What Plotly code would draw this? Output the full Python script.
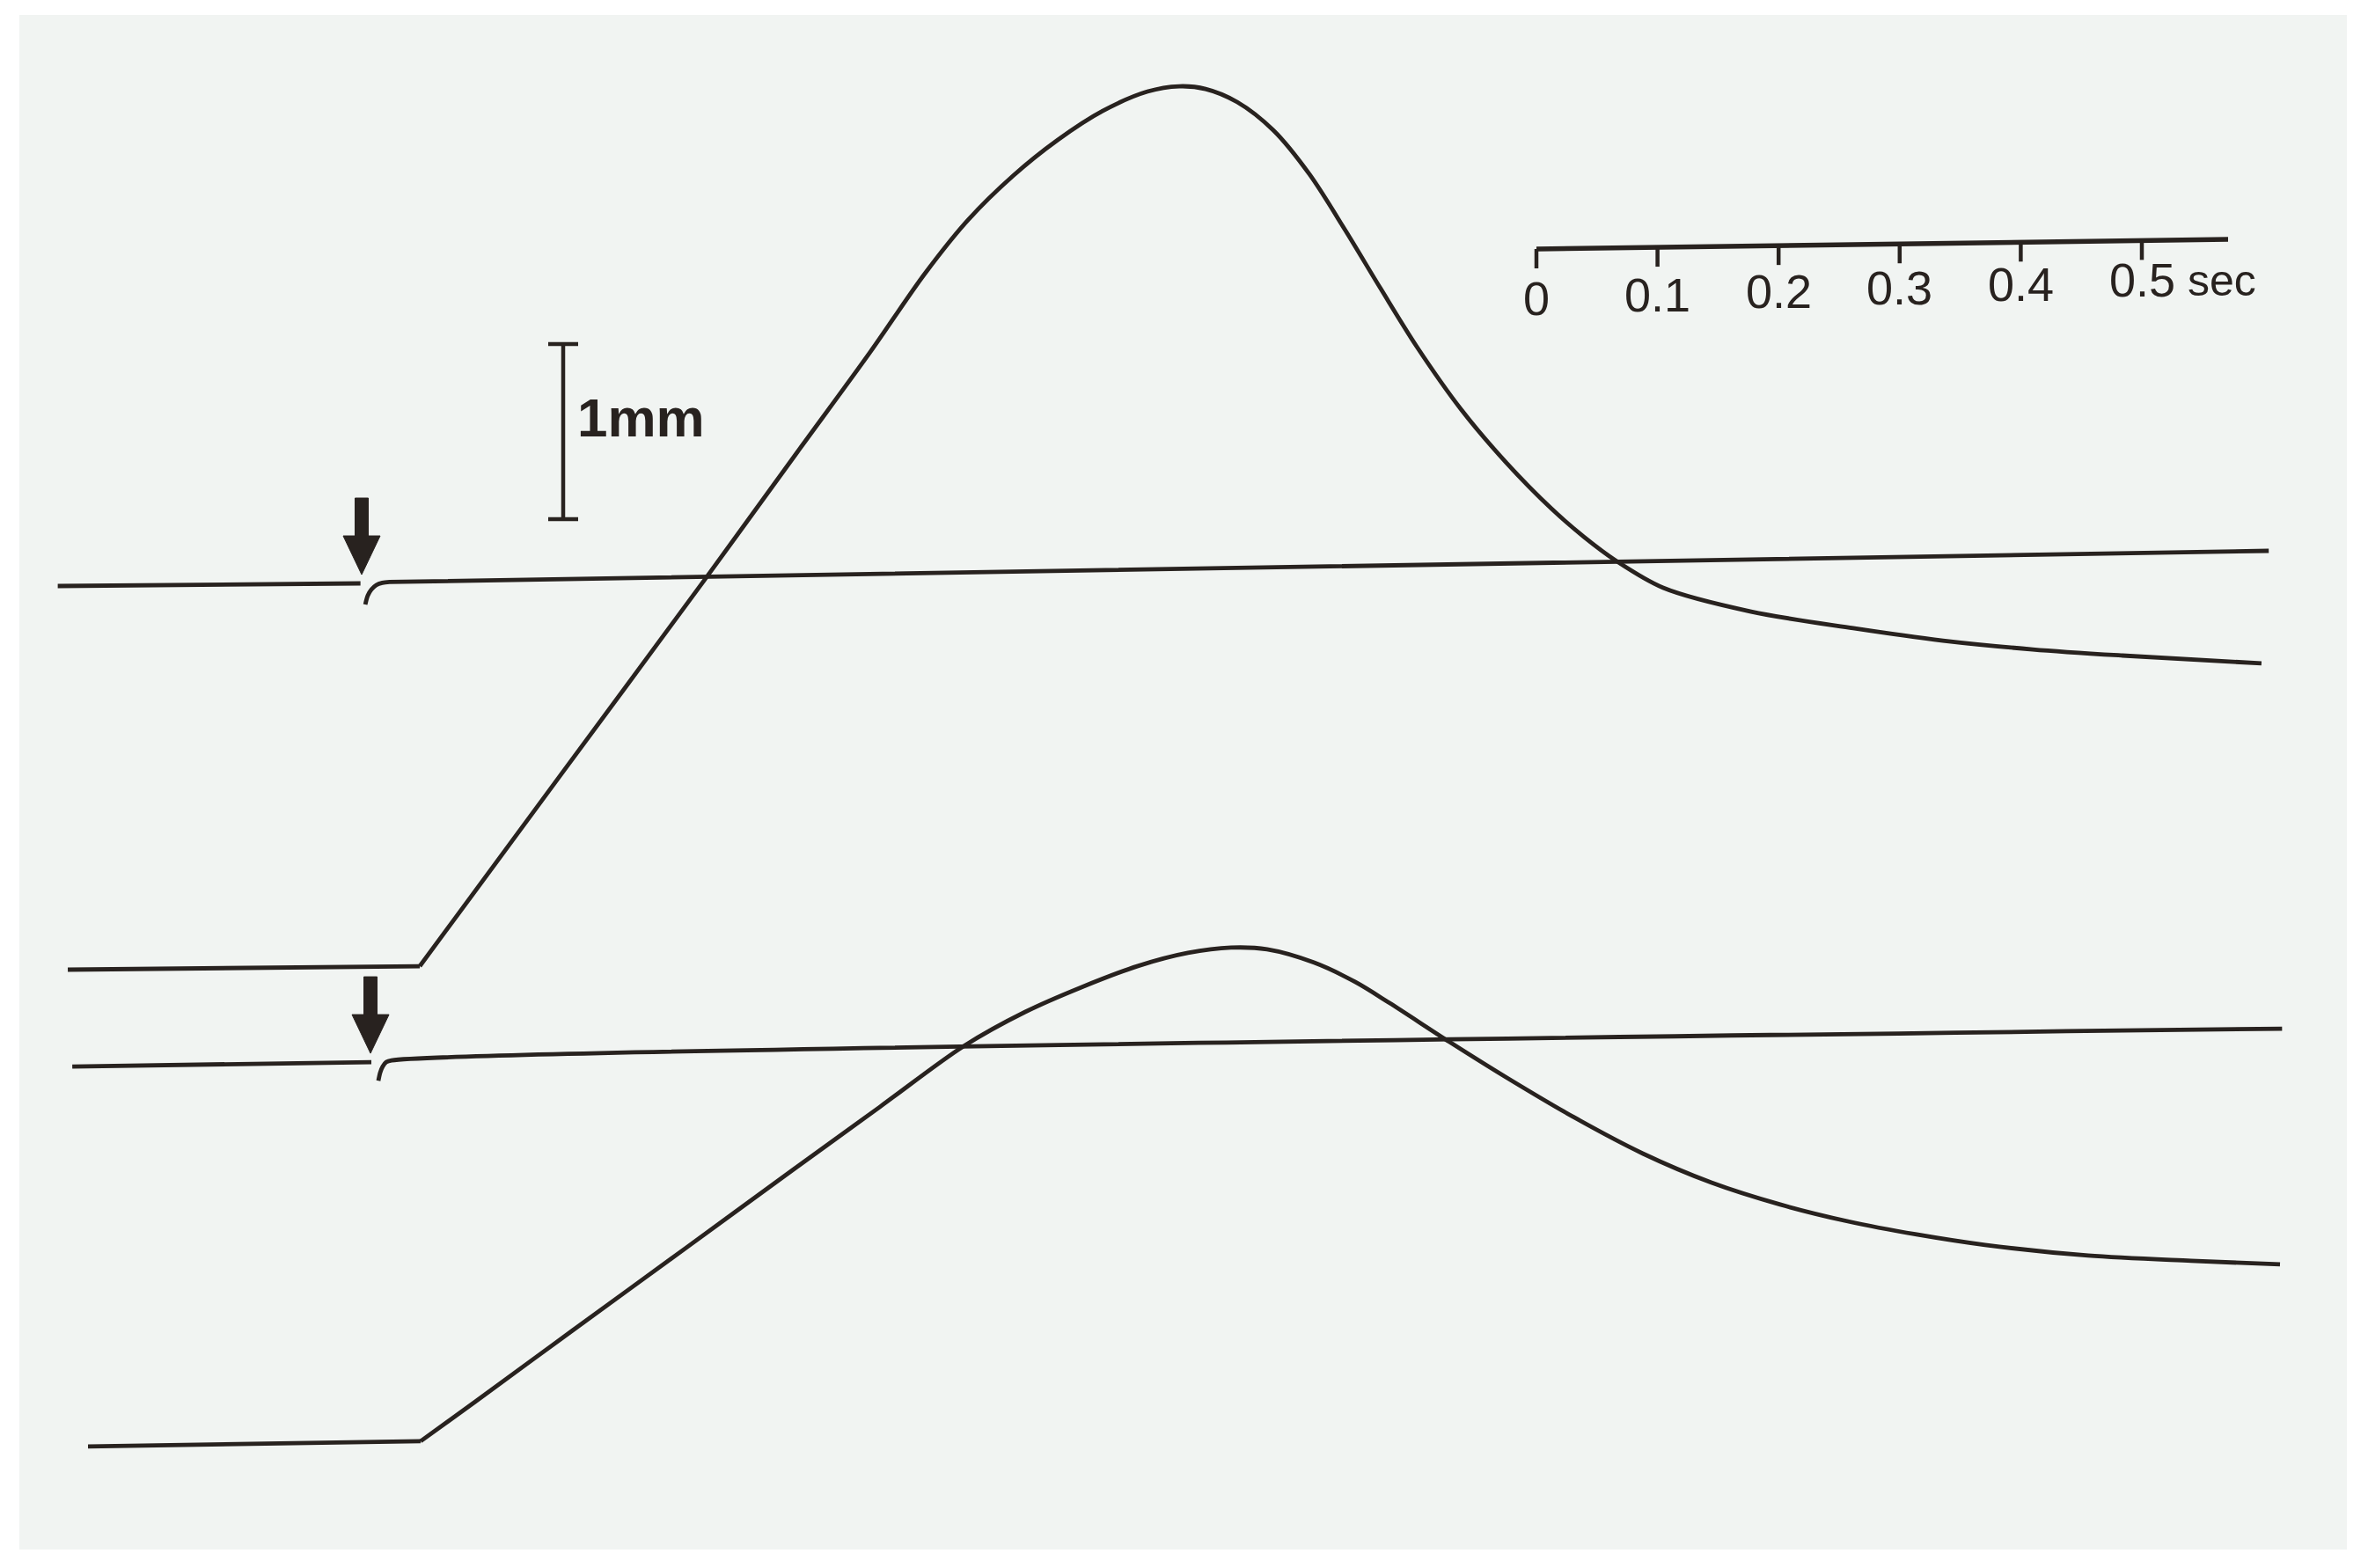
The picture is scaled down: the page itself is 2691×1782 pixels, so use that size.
import plotly.graph_objects as go

# -- Recorded traces (time in s from the stimulus, displacement in mm) ---------
# top pair: large response + its reference line
t_big = [-0.2427, 0.0480, 0.1664, 0.2842, 0.3597, 0.4201, 0.4651, 0.5007, 0.5378,
         0.5749, 0.6119, 0.6490, 0.6751, 0.6969, 0.7231, 0.7529, 0.7827, 0.8125,
         0.8416, 0.8714, 0.9084, 0.9455, 0.9826, 1.0094, 1.0356, 1.0749, 1.1475,
         1.2318, 1.3060, 1.3801, 1.4542, 1.5690]
d_big = [-0.010, 0.010, 1.121, 2.226, 2.945, 3.518, 3.965, 4.271, 4.523,
         4.729, 4.894, 5.005, 5.035, 5.020, 4.945, 4.784, 4.533, 4.211,
         3.879, 3.548, 3.186, 2.884, 2.623, 2.462, 2.327, 2.171, 2.035,
         1.940, 1.869, 1.819, 1.784, 1.739]

t_ref1 = [-0.251, -0.001, None, 0.003, 0.005, 0.008, 0.012, 0.017, 0.023, 1.575]
d_ref1 = [-0.015, 0.000, None, -0.121, -0.070, -0.035, -0.010, 0.003, 0.008, 0.186]

# bottom pair: small response + its reference line
t_small = [-0.2260, 0.0487, 0.0938, 0.1737, 0.2682, 0.3554, 0.4281, 0.4971, 0.5480,
           0.5945, 0.6410, 0.6824, 0.7180, 0.7478, 0.7863, 0.8205, 0.8488, 0.8983,
           0.9448, 1.0015, 1.0581, 1.1148, 1.1715, 1.2274, 1.2842, 1.3408, 1.4259,
           1.5109, 1.5843]
d_small = [-0.020, 0.010, 0.236, 0.640, 1.116, 1.556, 1.920, 2.266, 2.462,
           2.603, 2.724, 2.799, 2.829, 2.819, 2.744, 2.633, 2.513, 2.291,
           2.090, 1.859, 1.653, 1.487, 1.362, 1.266, 1.191, 1.131, 1.070,
           1.040, 1.020]

t_ref2 = [-0.239, 0.008, None, 0.0138, 0.0153, 0.0174, 0.0203, 0.0247, 1.586]
d_ref2 = [-0.025, 0.000, None, -0.106, -0.060, -0.025, 0.000, 0.010, 0.191]

# stimulus marks (arrows)
stim_times = [0.0, 0.0073]

# scale bars
time_ticks = [0, 0.1, 0.2, 0.3, 0.4, 0.5]
time_labels = ["0", "0.1", "0.2", "0.3", "0.4", "0.5"]
time_unit = "sec"
amp_bar = 1.0
amp_label = "1mm"

# -- Layout constants --------------------------------------------------------
# the page body keeps its default 8px margin, so the plot is 16px smaller
FULL_W, FULL_H, BODY = 2691, 1782, 8
W, H = FULL_W - 2 * BODY, FULL_H - 2 * BODY
PX_PER_S = 1376.0
PX_PER_MM = 199.0
X_STIM = 411.0                       # image px of t = 0
X_RANGE = [(BODY - X_STIM) / PX_PER_S, (FULL_W - BODY - X_STIM) / PX_PER_S]
Y_RANGE = [BODY / PX_PER_MM, (FULL_H - BODY) / PX_PER_MM]

OFF_BIG, OFF_REF1 = 3.427, 5.623     # baselines, mm above the image bottom
OFF_SMALL, OFF_REF2 = 0.714, 2.889

INK = "#28221f"
PAPER = "#f1f4f2"
LW = 4.8
FONT = "Liberation Sans, Arial, sans-serif"


def s(px):
    return px / PX_PER_S


def mm(px):
    return px / PX_PER_MM


def add_line(x, y, shape):
    fig.add_trace(go.Scatter(
        x=x, y=y, mode="lines",
        line=dict(color=INK, width=LW, shape=shape, smoothing=0.9),
        hoverinfo="skip", showlegend=False,
    ))


fig = go.Figure()

# responses: flat pre-stimulus part straight, the rest smoothed
for t, d, off in [(t_big, d_big, OFF_BIG), (t_small, d_small, OFF_SMALL)]:
    y = [v + off for v in d]
    add_line(t[:2], y[:2], "linear")
    add_line(t[1:], y[1:], "spline")

# reference lines with the small stimulus hook
for t, d, off in [(t_ref1, d_ref1, OFF_REF1), (t_ref2, d_ref2, OFF_REF2)]:
    y = [None if v is None else v + off for v in d]
    add_line(t, y, "spline")

shapes = []

# scanned paper sheet
shapes.append(dict(type="rect", xref="paper", yref="paper",
                   x0=(22 - BODY) / W, x1=(2667 - BODY) / W,
                   y0=(FULL_H - BODY - 1761) / H, y1=(FULL_H - BODY - 17) / H,
                   fillcolor=PAPER, line=dict(width=0), layer="below"))

# arrows above each reference line
for t0, base in zip(stim_times, [OFF_REF1, OFF_REF2]):
    tip = base + mm(10)
    head = base + mm(54)
    top = base + mm(97)
    hw, sw = s(21), s(7.5)
    path = (f"M {t0 - sw},{top} L {t0 + sw},{top} L {t0 + sw},{head} "
            f"L {t0 + hw},{head} L {t0},{tip} L {t0 - hw},{head} "
            f"L {t0 - sw},{head} Z")
    shapes.append(dict(type="path", path=path, fillcolor=INK,
                       line=dict(color=INK, width=1)))

# time scale bar (slightly tilted like the scan)
t_bar0 = s(1746 - X_STIM)
y_bar0 = mm(FULL_H - 283)
tilt = mm(11) / s(787)
bar_len = s(2532 - 1746)


def bar_y(t):
    return y_bar0 + tilt * (t - t_bar0)


shapes.append(dict(type="line", x0=t_bar0, x1=t_bar0 + bar_len,
                   y0=bar_y(t_bar0), y1=bar_y(t_bar0 + bar_len),
                   line=dict(color=INK, width=5.5)))

annotations = []
for tk, lab in zip(time_ticks, time_labels):
    tx = t_bar0 + tk
    shapes.append(dict(type="line", x0=tx, x1=tx, y0=bar_y(tx),
                       y1=bar_y(tx) - mm(22), line=dict(color=INK, width=4.5)))
    annotations.append(dict(x=tx, y=bar_y(tx) - mm(56) + mm(11) * tk * 2,
                            text=lab, showarrow=False, xanchor="center",
                            yanchor="middle",
                            font=dict(size=54, color=INK, family=FONT)))

annotations.append(dict(x=t_bar0 + time_ticks[-1] + s(50),
                        y=bar_y(t_bar0 + 0.5) - mm(46),
                        text=time_unit, showarrow=False, xanchor="left",
                        yanchor="middle",
                        font=dict(size=50, color=INK, family=FONT)))

# amplitude scale bar
t_amp = s(640 - X_STIM)
y_amp0 = mm(FULL_H - 590)
serif = s(17)
shapes.append(dict(type="line", x0=t_amp, x1=t_amp, y0=y_amp0,
                   y1=y_amp0 + amp_bar, line=dict(color=INK, width=4.5)))
for yy in [y_amp0, y_amp0 + amp_bar]:
    shapes.append(dict(type="line", x0=t_amp - serif, x1=t_amp + serif,
                       y0=yy, y1=yy, line=dict(color=INK, width=4.5)))

annotations.append(dict(x=t_amp + s(14), y=mm(FULL_H - 474),
                        text=f"<b>{amp_label}</b>",
                        showarrow=False, xanchor="left", yanchor="middle",
                        font=dict(size=62, color=INK, family=FONT)))

fig.update_layout(
    width=W, height=H, autosize=False,
    margin=dict(l=0, r=0, t=0, b=0),
    paper_bgcolor="white",
    plot_bgcolor="rgba(0,0,0,0)",
    xaxis=dict(range=X_RANGE, visible=False, fixedrange=True),
    yaxis=dict(range=Y_RANGE, visible=False, fixedrange=True),
    shapes=shapes,
    annotations=annotations,
    showlegend=False,
)

fig.write_html("out.html")
